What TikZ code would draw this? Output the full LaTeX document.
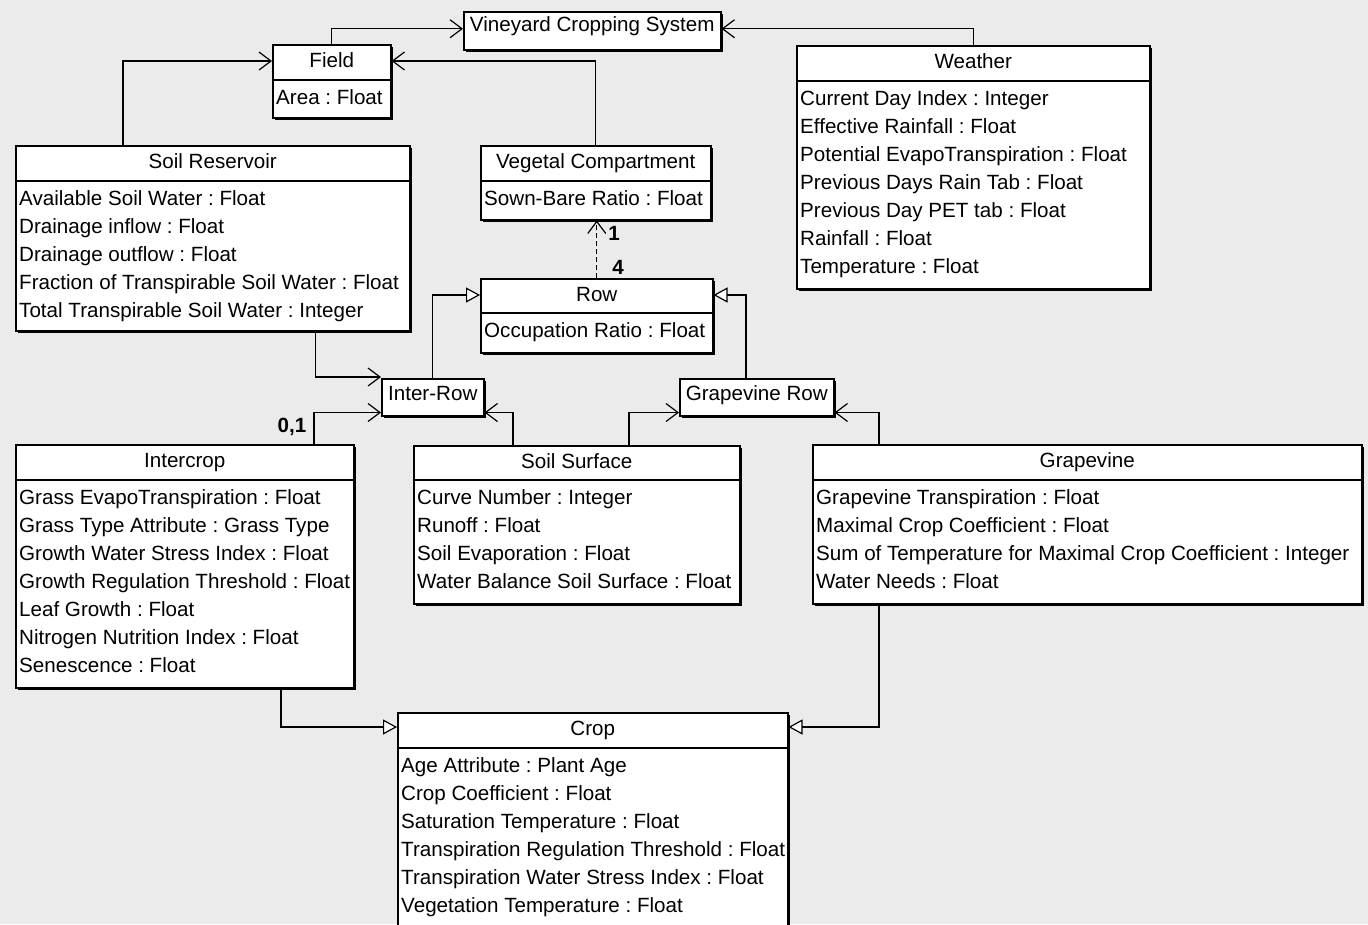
\documentclass[tikz,border=0pt]{standalone}
\usepackage{fontspec}
\setmainfont{Liberation Sans}
\usetikzlibrary{arrows.meta, positioning, shadows}
\definecolor{canvasgray}{RGB}{235, 235, 235}
\newcommand{\umlfont}{\fontsize{20.6}{28}\selectfont\frenchspacing}

\begin{document}
\begin{tikzpicture}[x=1pt, y=-1pt,
  classbox/.style={draw, fill=white, line width=1.5pt, anchor=north west, inner sep=0pt,
    drop shadow={shadow xshift=2.5pt, shadow yshift=-2.5pt, fill=black, opacity=1}},
  sep/.style={line width=1.3pt},
  cname/.style={font=\umlfont, anchor=base, inner sep=0pt},
  cattr/.style={font=\umlfont, align=left, anchor=north west, inner sep=0pt},
  assoc/.style={line width=1.3pt, -{Straight Barb[length=12pt, width=18pt, line width=1.2pt]}},
  inherit/.style={line width=1.3pt, -{Triangle[length=14pt, width=15pt, fill=white, line width=1.2pt]}},
  mult/.style={font=\umlfont\bfseries, inner sep=0pt}]

  \fill[canvasgray] (0,0) rectangle (1368,924);
  \useasboundingbox (0,0) rectangle (1368,924);

  % top level
  \node[classbox, minimum width=257pt, minimum height=38pt] (vcs) at (463,11) {};
  \node[cname] (vcs-name) at ([yshift=-20pt]vcs.north) {Vineyard Cropping System};

  \node[classbox, minimum width=118pt, minimum height=73pt] (field) at (272,44) {};
  \draw[sep] ([yshift=-36pt]field.north west) -- ([yshift=-36pt]field.north east);
  \node[cname] (field-name) at ([yshift=-23pt]field.north) {Field};
  \node[cattr] (field-attr) at ([xshift=4pt, yshift=-45pt]field.north west) {Area : Float};

  \node[classbox, minimum width=353pt, minimum height=243pt] (weather) at (796,45) {};
  \draw[sep] ([yshift=-36pt]weather.north west) -- ([yshift=-36pt]weather.north east);
  \node[cname] (weather-name) at ([yshift=-23pt]weather.north) {Weather};
  \node[cattr] (weather-attr) at ([xshift=4pt, yshift=-45pt]weather.north west)
    {Current Day Index : Integer\\Effective Rainfall : Float\\Potential EvapoTranspiration : Float\\Previous Days Rain Tab : Float\\Previous Day PET tab : Float\\Rainfall : Float\\Temperature : Float};

  % field parts
  \node[classbox, minimum width=394pt, minimum height=185pt] (soil) at (15,145) {};
  \draw[sep] ([yshift=-36pt]soil.north west) -- ([yshift=-36pt]soil.north east);
  \node[cname] (soil-name) at ([yshift=-23pt]soil.north) {Soil Reservoir};
  \node[cattr] (soil-attr) at ([xshift=4pt, yshift=-45pt]soil.north west)
    {Available Soil Water : Float\\Drainage inflow : Float\\Drainage outflow : Float\\Fraction of Transpirable Soil Water : Float\\Total Transpirable Soil Water : Integer};

  \node[classbox, minimum width=230pt, minimum height=74pt] (veg) at (480,145) {};
  \draw[sep] ([yshift=-36pt]veg.north west) -- ([yshift=-36pt]veg.north east);
  \node[cname] (veg-name) at ([yshift=-23pt]veg.north) {Vegetal Compartment};
  \node[cattr] (veg-attr) at ([xshift=4pt, yshift=-45pt]veg.north west) {Sown-Bare Ratio : Float};

  % rows
  \node[classbox, minimum width=232pt, minimum height=74pt] (row) at (480,278) {};
  \draw[sep] ([yshift=-35pt]row.north west) -- ([yshift=-35pt]row.north east);
  \node[cname] (row-name) at ([yshift=-23pt]row.north) {Row};
  \node[cattr] (row-attr) at ([xshift=4pt, yshift=-44pt]row.north west) {Occupation Ratio : Float};

  \node[classbox, minimum width=102pt, minimum height=37pt] (interrow) at (381,378) {};
  \node[cname] (interrow-name) at ([yshift=-22pt]interrow.north) {Inter-Row};

  \node[classbox, minimum width=154pt, minimum height=37pt] (gvrow) at (679,378) {};
  \node[cname] (gvrow-name) at ([yshift=-22pt]gvrow.north) {Grapevine Row};

  % row contents
  \node[classbox, minimum width=338pt, minimum height=243pt] (intercrop) at (15,444) {};
  \draw[sep] ([yshift=-36pt]intercrop.north west) -- ([yshift=-36pt]intercrop.north east);
  \node[cname] (intercrop-name) at ([yshift=-23pt]intercrop.north) {Intercrop};
  \node[cattr] (intercrop-attr) at ([xshift=4pt, yshift=-45pt]intercrop.north west)
    {Grass EvapoTranspiration : Float\\Grass Type Attribute : Grass Type\\Growth Water Stress Index : Float\\Growth Regulation Threshold : Float\\Leaf Growth : Float\\Nitrogen Nutrition Index : Float\\Senescence : Float};

  \node[classbox, minimum width=326pt, minimum height=158pt] (soilsurf) at (413,445) {};
  \draw[sep] ([yshift=-35pt]soilsurf.north west) -- ([yshift=-35pt]soilsurf.north east);
  \node[cname] (soilsurf-name) at ([yshift=-23pt]soilsurf.north) {Soil Surface};
  \node[cattr] (soilsurf-attr) at ([xshift=4pt, yshift=-44pt]soilsurf.north west)
    {Curve Number : Integer\\Runoff : Float\\Soil Evaporation : Float\\Water Balance Soil Surface : Float};

  \node[classbox, minimum width=549pt, minimum height=159pt] (grapevine) at (812,444) {};
  \draw[sep] ([yshift=-36pt]grapevine.north west) -- ([yshift=-36pt]grapevine.north east);
  \node[cname] (grapevine-name) at ([yshift=-23pt]grapevine.north) {Grapevine};
  \node[cattr] (grapevine-attr) at ([xshift=4pt, yshift=-45pt]grapevine.north west)
    {Grapevine Transpiration : Float\\Maximal Crop Coefficient : Float\\Sum of Temperature for Maximal Crop Coefficient : Integer\\Water Needs : Float};

  \node[classbox, minimum width=390pt, minimum height=214pt] (crop) at (397,712) {};
  \draw[sep] ([yshift=-36pt]crop.north west) -- ([yshift=-36pt]crop.north east);
  \node[cname] (crop-name) at ([yshift=-23pt]crop.north) {Crop};
  \node[cattr] (crop-attr) at ([xshift=4pt, yshift=-45pt]crop.north west)
    {Age Attribute : Plant Age\\Crop Coefficient : Float\\Saturation Temperature : Float\\Transpiration Regulation Threshold : Float\\Transpiration Water Stress Index : Float\\Vegetation Temperature : Float};

  % links
  \draw[assoc] (field.north) |- ([yshift=2pt]vcs.west);
  \draw[assoc] (weather.north) |- ([yshift=2pt]vcs.east);
  \draw[assoc] ([xshift=108pt]soil.north west) |- ([yshift=-17pt]field.north west);
  \draw[assoc] (veg.north) |- ([yshift=-17pt]field.north east);
  \draw[assoc, dashed, dash pattern=on 5pt off 3pt] (row.north) -- (row.north |- veg.south)
    node[mult, pos=0.78, anchor=west, xshift=11pt] (m-one) {1}
    node[mult, pos=0.19, anchor=west, xshift=15pt] (m-four) {4};
  \draw[inherit] (interrow.north) |- ([yshift=-17pt]row.north west);
  \draw[inherit] ([xshift=67pt]gvrow.north west) |- ([yshift=-17pt]row.north east);
  \draw[assoc] ([xshift=-95pt]soil.south east) |- ([yshift=1pt]interrow.north west);
  \draw[assoc] ([xshift=299pt]intercrop.north west) |- ([yshift=4pt]interrow.south west)
    node[mult, pos=0.27, anchor=east, xshift=-7pt] (m-opt) {0,1};
  \draw[assoc] ([xshift=100pt]soilsurf.north west) |- ([yshift=4pt]interrow.south east);
  \draw[assoc] ([xshift=216pt]soilsurf.north west) |- ([yshift=4pt]gvrow.south west);
  \draw[assoc] ([xshift=67pt]grapevine.north west) |- ([yshift=4pt]gvrow.south east);
  \draw[inherit] ([xshift=266pt]intercrop.south west) |- ([yshift=-15pt]crop.north west);
  \draw[inherit] ([xshift=67pt]grapevine.south west) |- ([yshift=-15pt]crop.north east);
\end{tikzpicture}
\end{document}
